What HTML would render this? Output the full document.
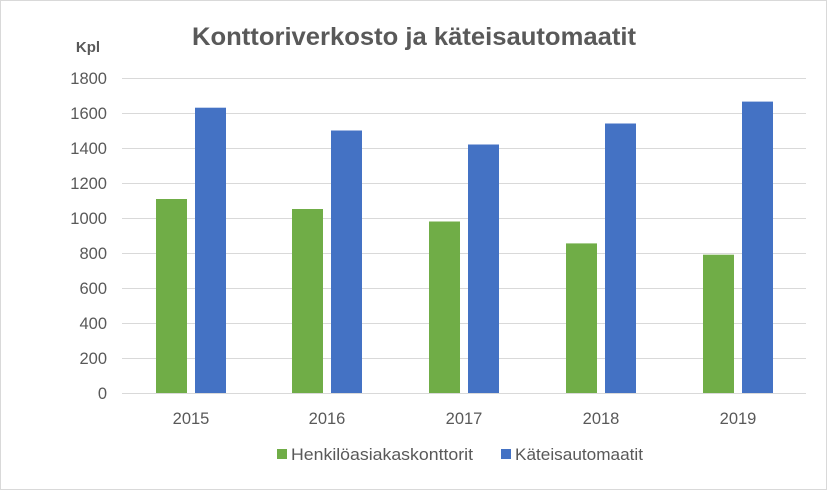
<!DOCTYPE html>
<html><head><meta charset="utf-8"><style>
body{margin:0;background:#fff}
svg{display:block;font-family:"Liberation Sans",Calibri,sans-serif}
</style></head><body>
<svg width="827" height="491" viewBox="0 0 827 491">
<rect x="0.5" y="0.5" width="826" height="489" fill="#fff" stroke="#d9d9d9"/>
<text x="192" y="45" font-size="25" font-weight="bold" fill="#595959" textLength="444" lengthAdjust="spacingAndGlyphs">Konttoriverkosto ja käteisautomaatit</text>
<text x="88" y="52" font-size="15" font-weight="bold" fill="#595959" text-anchor="middle">Kpl</text>
<g stroke="#d9d9d9" stroke-width="1">
<line x1="122" x2="806" y1="78.5" y2="78.5"/><line x1="122" x2="806" y1="113.5" y2="113.5"/>
<line x1="122" x2="806" y1="148.5" y2="148.5"/><line x1="122" x2="806" y1="183.5" y2="183.5"/>
<line x1="122" x2="806" y1="218.5" y2="218.5"/><line x1="122" x2="806" y1="253.5" y2="253.5"/>
<line x1="122" x2="806" y1="288.5" y2="288.5"/><line x1="122" x2="806" y1="323.5" y2="323.5"/>
<line x1="122" x2="806" y1="358.5" y2="358.5"/><line x1="122" x2="806" y1="393.5" y2="393.5"/>
</g>
<g font-size="16.5" fill="#595959" text-anchor="end">
<text x="107" y="84">1800</text><text x="107" y="119">1600</text><text x="107" y="154">1400</text>
<text x="107" y="189">1200</text><text x="107" y="224">1000</text><text x="107" y="259">800</text>
<text x="107" y="294">600</text><text x="107" y="329">400</text><text x="107" y="364">200</text>
<text x="107" y="399">0</text>
</g>
<g fill="#70ad47">
<rect x="156" y="199" width="31" height="194"/>
<rect x="292" y="209" width="31" height="184"/>
<rect x="429" y="221.5" width="31" height="171.5"/>
<rect x="566" y="243.4" width="31" height="149.6"/>
<rect x="703" y="254.7" width="31" height="138.3"/>
</g>
<g fill="#4472c4">
<rect x="195" y="107.7" width="31" height="285.3"/>
<rect x="331" y="130.5" width="31" height="262.5"/>
<rect x="468" y="144.5" width="31" height="248.5"/>
<rect x="605" y="123.5" width="31" height="269.5"/>
<rect x="742" y="101.6" width="31" height="291.4"/>
</g>
<g font-size="16.5" fill="#595959" text-anchor="middle">
<text x="191" y="424">2015</text><text x="327" y="424">2016</text><text x="464" y="424">2017</text>
<text x="601" y="424">2018</text><text x="738" y="424">2019</text>
</g>
<rect x="277" y="449" width="10" height="10" fill="#70ad47"/>
<text x="291" y="460" font-size="16.5" fill="#595959" textLength="182" lengthAdjust="spacingAndGlyphs">Henkilöasiakaskonttorit</text>
<rect x="501" y="449" width="10" height="10" fill="#4472c4"/>
<text x="515" y="460" font-size="16.5" fill="#595959" textLength="128" lengthAdjust="spacingAndGlyphs">Käteisautomaatit</text>
</svg>
</body></html>
